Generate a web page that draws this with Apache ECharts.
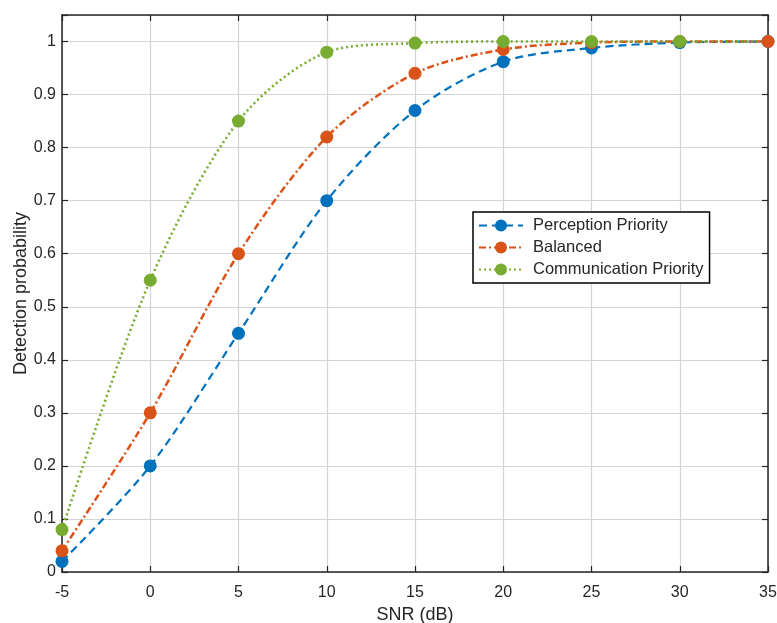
<!DOCTYPE html>
<html>
<head>
<meta charset="utf-8">
<script src="https://cdn.jsdelivr.net/npm/echarts@6/dist/echarts.min.js"></script>
<style>
  html, body { margin: 0; padding: 0; background: #fff; }
  #chart { width: 777px; height: 623px; }
</style>
</head>
<body>
<div id="chart"></div>
<script>
/* Detection probability vs SNR, three allocation strategies (MATLAB-style look). */
const snr = [-5, 0, 5, 10, 15, 20, 25, 30, 35];
const perception = [0.02, 0.2, 0.45, 0.7, 0.87, 0.962, 0.988, 0.998, 1.0];
const balanced = [0.04, 0.3, 0.6, 0.82, 0.94, 0.985, 0.998, 1.0, 1.0];
const communication = [0.08, 0.55, 0.85, 0.98, 0.997, 1.0, 1.0, 1.0, 1.0];

const FONT = "Liberation Sans, Arial, sans-serif";
const AX = "#262626";

const pts = (ys, skipLast) => snr.map((x, i) => {
  const p = { value: [x, ys[i]] };
  if (skipLast && i === snr.length - 1) p.symbol = "none";
  return p;
});

const mk = (name, ys, color, dash, width, skipLast) => ({
  name, type: "line", data: pts(ys, skipLast),
  smooth: 0.3,
  symbol: "circle", symbolSize: 13,
  itemStyle: { color },
  lineStyle: { color, width, type: dash },
  z: 3,
});

const inner = { show: true, inside: true, length: 6, lineStyle: { color: AX, width: 1.2 } };
const axLine = { show: true, onZero: false, lineStyle: { color: AX, width: 1.5 } };

echarts.init(document.getElementById("chart")).setOption({
  animation: false,
  grid: { left: 62, right: 9, top: 15, bottom: 51, containLabel: false, outerBoundsMode: "none" },
  xAxis: [
    { type: "value", min: -5, max: 35, interval: 5,
      name: "SNR (dB)", nameLocation: "middle", nameGap: 34, nameMoveOverlap: false,
      nameTextStyle: { fontFamily: FONT, fontSize: 18, color: AX },
      axisLine: axLine,
      axisTick: inner,
      axisLabel: { fontFamily: FONT, fontSize: 16, color: AX, margin: 13 },
      splitLine: { show: true, lineStyle: { color: "#d4d4d4", width: 1.2 } } },
    { type: "value", position: "top", min: -5, max: 35, interval: 5,
      axisLine: axLine,
      axisTick: inner, axisLabel: { show: false }, splitLine: { show: false } },
  ],
  yAxis: [
    { type: "value", min: 0, max: 1.05, interval: 0.1,
      name: "Detection probability", nameLocation: "middle", nameGap: 32, nameMoveOverlap: false,
      nameTextStyle: { fontFamily: FONT, fontSize: 18, color: AX },
      axisLine: axLine,
      axisTick: inner,
      axisLabel: { fontFamily: FONT, fontSize: 16, color: AX, margin: 6,
        formatter: (v) => (v > 1.001 ? "" : String(Math.round(v * 10) / 10)) },
      splitLine: { show: true, lineStyle: { color: "#d4d4d4", width: 1.2 } } },
    { type: "value", position: "right", min: 0, max: 1.05, interval: 0.1,
      axisLine: axLine,
      axisTick: inner, axisLabel: { show: false }, splitLine: { show: false } },
  ],
  legend: {
    orient: "vertical", left: 473, top: 212,
    itemWidth: 44, itemHeight: 15, itemGap: 5,
    padding: [5, 6, 5, 5],
    backgroundColor: "#fff", borderColor: "#000", borderWidth: 1.5,
    textStyle: { fontFamily: FONT, fontSize: 16.5, color: AX, padding: [0, 0, 0, 5] },
    data: ["Perception Priority", "Balanced", "Communication Priority"],
  },
  series: [
    mk("Perception Priority", perception, "#0072BD", [8, 5], 2.2, false),
    mk("Balanced", balanced, "#D95319", [7, 3, 2, 3], 2.5, false),
    mk("Communication Priority", communication, "#77AC30", [2, 3], 2.6, true),
  ],
});
</script>
</body>
</html>
